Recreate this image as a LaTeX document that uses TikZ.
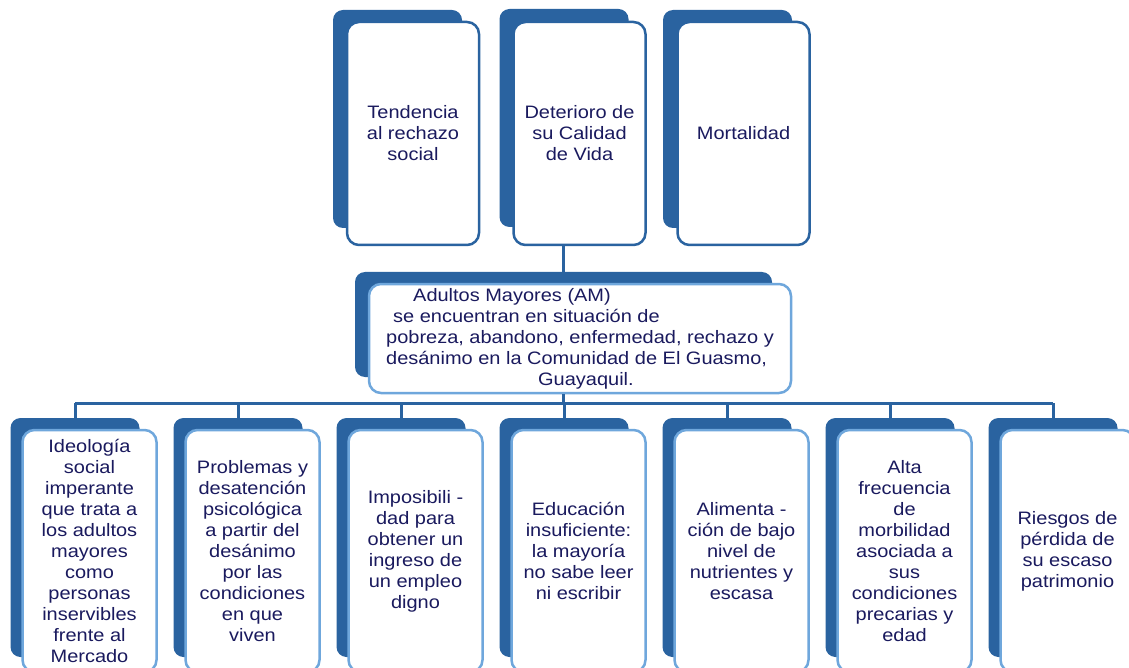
\documentclass[tikz,border=0pt]{standalone}
\usepackage{fontspec}
\setmainfont{Liberation Sans}[FakeStretch=1.11]
\definecolor{cardblue}{HTML}{2A63A0}
\definecolor{edgeblue}{HTML}{6FA7DC}
\definecolor{inkblue}{HTML}{1A1A5E}

\begin{document}
\begin{tikzpicture}[x=1pt,y=-1pt]
    \tikzstyle{back} = [rectangle, rounded corners=10pt, fill=cardblue, inner sep=0pt]
    \tikzstyle{card} = [rectangle, rounded corners=12pt, draw=cardblue, line width=2.5pt, fill=white, align=center, text=inkblue, inner sep=0pt]
    \tikzstyle{lowcard} = [card, draw=edgeblue]
    \tikzstyle{link} = [draw=cardblue, line width=3pt]
    \fontsize{18}{21}\selectfont
    \clip (0,0) rectangle (1129,668);
    % top row: consequences
    \node (tb1) [back, minimum width=129pt, minimum height=218pt] at (397.5,119) {};
    \node (t1) [card, minimum width=132pt, minimum height=223pt] at (413,133.5) {Tendencia\\al rechazo\\social};
    \node (tb2) [back, minimum width=129pt, minimum height=218pt] at (564,118) {};
    \node (t2) [card, minimum width=132pt, minimum height=223pt] at (579.5,133.5) {Deterioro de\\su Calidad\\de Vida};
    \node (tb3) [back, minimum width=129pt, minimum height=218pt] at (727.5,119) {};
    \node (t3) [card, minimum width=132pt, minimum height=223pt] at (743.5,133.5) {Mortalidad};
    % central problem
    \node (cb) [back, minimum width=417pt, minimum height=105pt] at (563.5,324.5) {};
    \node (c) [lowcard, minimum width=422pt, minimum height=109pt, align=left] at (580,338.5) {\hspace*{27pt}Adultos Mayores (AM)\\\hspace*{7pt}se encuentran en situación de\\pobreza, abandono, enfermedad, rechazo y\\desánimo en la Comunidad de El Guasmo,\\\hspace*{152pt}Guayaquil.};
    \draw[link] (cb.north |- t2.south) -- (cb.north);
    % bottom row: causes
    \coordinate (bus) at (564,403);
    \foreach \i/\txt in {0/{Ideología\\social\\imperante\\que trata a\\los adultos\\mayores\\como\\personas\\inservibles\\frente al\\Mercado},
        1/{Problemas y\\desatención\\psicológica\\a partir del\\desánimo\\por las\\condiciones\\en que\\viven},
        2/{Imposibili -\\dad para\\obtener un\\ingreso de\\un empleo\\digno},
        3/{Educación\\insuficiente:\\la mayoría\\no sabe leer\\ni escribir},
        4/{Alimenta -\\ción de bajo\\nivel de\\nutrientes y\\escasa},
        5/{Alta\\frecuencia\\de\\morbilidad\\asociada a\\sus\\condiciones\\precarias y\\edad},
        6/{Riesgos de\\pérdida de\\su escaso\\patrimonio}} {
        \node (bb\i) [back, minimum width=129pt, minimum height=239pt] at (75+163*\i,537.5) {};
        \node (b\i) [lowcard, minimum width=134pt, minimum height=242pt] at (89.5+163*\i,551) {\txt};
        \draw[link] (bb\i.north |- bus) -- (bb\i.north);
    }
    \draw[link] (cb.south |- c.south) -- (cb.south |- bus);
    \draw[link] (bb0.north |- bus) -- (bb6.north |- bus);
\end{tikzpicture}
\end{document}
